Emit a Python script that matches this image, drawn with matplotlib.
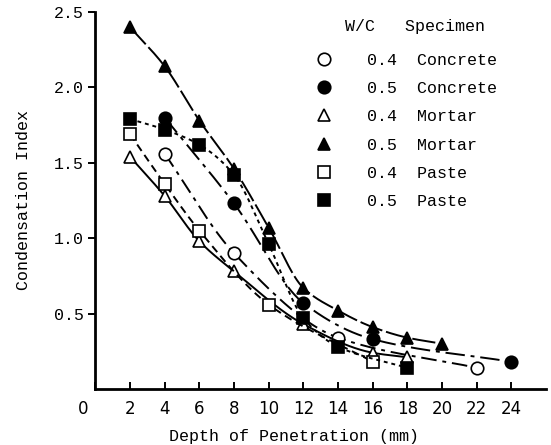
import numpy as np
import matplotlib
matplotlib.use('Agg')
import matplotlib.pyplot as plt
from matplotlib.lines import Line2D
import matplotlib.transforms as mtransforms

# values
x_conc_04 = [4, 8, 14, 22]
y_conc_04 = [1.56, 0.90, 0.34, 0.14]
x_conc_05 = [4, 8, 12, 16, 24]
y_conc_05 = [1.80, 1.23, 0.57, 0.33, 0.18]
x_mort_04 = [2, 4, 6, 8, 12, 16, 18]
y_mort_04 = [1.54, 1.28, 0.98, 0.78, 0.43, 0.24, 0.21]
x_mort_05 = [2, 4, 6, 8, 10, 12, 14, 16, 18, 20]
y_mort_05 = [2.40, 2.14, 1.78, 1.46, 1.07, 0.67, 0.52, 0.41, 0.34, 0.30]
x_paste_04 = [2, 4, 6, 10, 16]
y_paste_04 = [1.69, 1.36, 1.05, 0.56, 0.18]
x_paste_05 = [2, 4, 6, 8, 10, 12, 14, 18]
y_paste_05 = [1.79, 1.72, 1.62, 1.42, 0.96, 0.47, 0.28, 0.14]

wc = ['0.4', '0.5', '0.4', '0.5', '0.4', '0.5']
specimen = ['Concrete', 'Concrete', 'Mortar', 'Mortar', 'Paste', 'Paste']

series = [
    (x_conc_04, y_conc_04, 'o', 'white', (0, (8, 3, 2, 3))),
    (x_conc_05, y_conc_05, 'o', 'black', (0, (10, 3, 2, 3))),
    (x_mort_04, y_mort_04, '^', 'white', '-'),
    (x_mort_05, y_mort_05, '^', 'black', (0, (12, 2))),
    (x_paste_04, y_paste_04, 's', 'white', (0, (4, 2.5))),
    (x_paste_05, y_paste_05, 's', 'black', (0, (2, 2))),
]

mono = 'Liberation Mono'


def pchip(xs, ys, xf):
    # monotone cubic (Fritsch-Carlson) through the read points
    h = np.diff(xs)
    d = np.diff(ys) / h
    m = np.zeros_like(ys)
    m[0], m[-1] = d[0], d[-1]
    for i in range(1, len(xs) - 1):
        if d[i - 1] * d[i] > 0:
            w1 = 2 * h[i] + h[i - 1]
            w2 = h[i] + 2 * h[i - 1]
            m[i] = (w1 + w2) / (w1 / d[i - 1] + w2 / d[i])
    idx = np.clip(np.searchsorted(xs, xf) - 1, 0, len(xs) - 2)
    t = (xf - xs[idx]) / h[idx]
    h00 = 2 * t**3 - 3 * t**2 + 1
    h10 = t**3 - 2 * t**2 + t
    h01 = -2 * t**3 + 3 * t**2
    h11 = t**3 - t**2
    return (h00 * ys[idx] + h10 * h[idx] * m[idx]
            + h01 * ys[idx + 1] + h11 * h[idx] * m[idx + 1])


fig = plt.figure(figsize=(5.51, 4.45), dpi=100)
ax = fig.add_axes([0.173, 0.126, 0.818, 0.847])

handles = []
for (xs, ys, mk, fc, ls), w, s in zip(series, wc, specimen):
    xs = np.array(xs, dtype=float)
    ys = np.array(ys, dtype=float)
    xf = np.linspace(xs[0], xs[-1], 300)
    ax.plot(xf, pchip(xs, ys, xf), color='black', lw=1.4, ls=ls)
    ax.plot(xs, ys, ls='none', marker=mk, ms=9, mfc=fc, mec='black', mew=1.2)
    handles.append(Line2D([], [], ls='none', marker=mk, ms=9, mfc=fc,
                          mec='black', mew=1.2, label=f'{w}  {s}'))

leg = ax.legend(handles=handles, loc='upper left', bbox_to_anchor=(0.455, 1.02),
                frameon=False, prop={'family': mono, 'size': 12},
                title='   W/C   Specimen', title_fontproperties={'family': mono, 'size': 12},
                labelspacing=0.8, handletextpad=2.1, handlelength=1.0)
leg._legend_box.align = 'left'
leg._legend_box.sep = 13

ax.set_xlim(0, 26)
ax.set_ylim(0, 2.5)
ax.set_xticks(range(0, 25, 2))
ax.set_yticks([0.5, 1.0, 1.5, 2.0, 2.5])
ax.set_yticklabels(['0.5', '1.0', '1.5', '2.0', '2.5'], family=mono, fontsize=12)
ax.tick_params(axis='x', direction='in', length=5, width=1.4, labelsize=12, pad=8)
ax.tick_params(axis='y', direction='out', length=5, width=1.4)
for sp in ['top', 'right']:
    ax.spines[sp].set_visible(False)
for sp in ['left', 'bottom']:
    ax.spines[sp].set_linewidth(2)

lbl0 = ax.get_xticklabels()[0]
lbl0.set_transform(lbl0.get_transform() + mtransforms.ScaledTranslation(-0.12, 0, fig.dpi_scale_trans))

ax.set_xlabel('Depth of Penetration (mm)', family=mono, fontsize=12)
ax.xaxis.label.set_va('center')
ax.xaxis.set_label_coords(0.44, -0.125)
ax.set_ylabel('Condensation Index', family=mono, fontsize=12)
ax.yaxis.set_label_coords(-0.143, 0.5)

fig.savefig('out.png', dpi=100)
